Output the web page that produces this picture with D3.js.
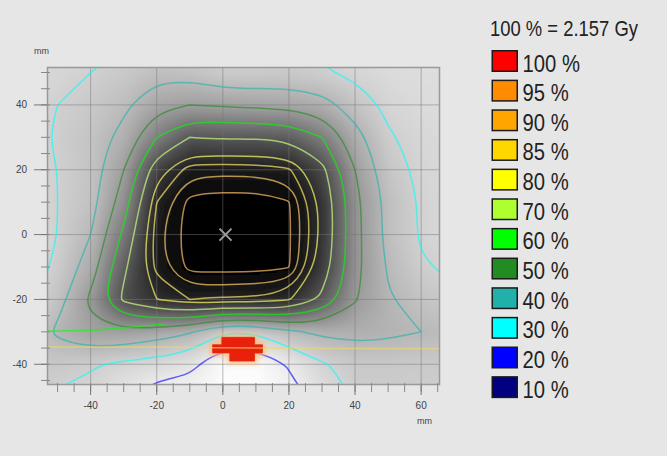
<!DOCTYPE html>
<html>
<head>
<meta charset="utf-8">
<script src="https://cdnjs.cloudflare.com/ajax/libs/d3/7.8.5/d3.min.js"></script>
<style>
html, body {
    margin: 0;
    background: #e6e6e6;
}
svg {
    display: block;
    font-family: "Liberation Sans", Arial, sans-serif;
}
</style>
</head>
<body>
<svg id="chart" width="667" height="456"></svg>
<script>

// dose plane sampled every 10 mm (rows top to bottom), in % of reference dose
var gridX = [-60, -50, -40, -30, -20, -10, 0, 10, 20, 30, 40, 50, 60, 70];
var gridY = [60, 50, 40, 30, 20, 10, 0, -10, -20, -30, -40, -50];
var dose = [
    [24, 26, 27, 29, 31, 31, 30, 29, 29, 28, 26, 24, 24, 24],
    [26, 28, 30, 33, 37, 36, 32, 32, 33, 31, 28, 26, 25, 25],
    [27, 30, 33, 38, 47, 50, 49, 48, 47, 44, 35, 28, 26, 25],
    [27, 31, 35, 43, 60, 70, 69, 69, 68, 60, 44, 31, 27, 26],
    [26, 30, 35, 50, 76, 88, 88, 88, 86, 73, 50, 34, 28, 26],
    [25, 30, 36, 55, 85, 97, 98, 98, 95.5, 78, 53, 37, 29, 26],
    [24, 30, 40, 62, 88, 98, 100, 100, 96, 78, 53, 37, 29, 26],
    [24, 32, 45, 68, 87, 97, 97, 97, 95.5, 76, 53, 39, 31, 28],
    [26, 36, 52, 72, 80, 85, 84, 84, 81, 68, 51, 41, 35, 32],
    [31, 42, 48, 48, 45, 41, 30, 31, 38, 42, 43, 42, 40, 38],
    [34, 33, 31, 28, 26, 23, 12, 12, 21, 29, 33, 33, 32, 32],
    [31, 29, 27, 22, 14, 14, 12, 12, 16, 24, 31, 31, 31, 31]
];

var isoLevels = [95, 90, 85, 80, 70, 60, 50, 40, 30, 20];
var legendLevels = [100, 95, 90, 85, 80, 70, 60, 50, 40, 30, 20, 10];
var legendColors = ['#ff0000', '#ff8c00', '#ffa500', '#ffd700', '#ffff00', '#adff2f',
                    '#00ff00', '#228b22', '#20b2aa', '#00ffff', '#0000ff', '#000080'];
var refText = '100 % = 2.157 Gy';

// 100 % region (mm)
var hotSpot = [[-0.3, -31.7], [9.6, -31.7], [9.6, -34.0], [12, -34.0], [12, -36.5], [9.6, -36.5],
               [9.6, -39.0], [2.1, -39.0], [2.1, -36.5], [-3.1, -36.5], [-3.1, -34.0], [-0.3, -34.0]];
// phantom surface isolines (mm)
var surfaceLines = [
    {level: 85, pts: [[-54, -34.7], [-20, -34.7], [0, -34.9], [30, -35.1], [66, -35.2]]},
    {level: 60, pts: [[-54, -29.8], [-40, -29.5], [-28, -28.6], [-18, -27.6]]}
];
var isocenter = [0.8, 0];

var xTicks = [-40, -20, 0, 20, 40, 60];
var yTicks = [-40, -20, 0, 20, 40];
var xMinor = [-50, -45, -40, -35, -30, -25, -20, -15, -10, -5, 0, 5, 10, 15, 20, 25, 30, 35, 40, 45, 50, 55, 60, 65];
var yMinor = [-45, -40, -35, -30, -25, -20, -15, -10, -5, 0, 5, 10, 15, 20, 25, 30, 35, 40, 45, 50];

var plot = {left: 47, right: 440, top: 67, bottom: 385};

var x = d3.scaleLinear().domain([-53.2, 65.7]).range([plot.left, plot.right]);
var y = d3.scaleLinear().domain([-46.4, 51.7]).range([plot.bottom, plot.top]);

var shade = d3.scaleLinear()
    .domain([12, 20, 25, 30, 40, 50, 60, 70, 80, 90, 97])
    .range([252, 238, 222, 208, 184, 158, 126, 84, 46, 18, 0])
    .clamp(true);

var levelColor = d3.scaleOrdinal().domain(legendLevels).range(legendColors);
// lines over the dark core read pale, lines over the light rim keep their colour
var lineColor = function(level) {
    return level >= 70 ? d3.interpolateRgb(levelColor(level), '#dcdcdc')(0.45) : levelColor(level);
};
var lineOpacity = function(level) { return level >= 70 ? 0.75 : 0.6; };

var svg = d3.select('#chart');
var defs = svg.append('defs');

defs.append('clipPath').attr('id', 'plotClip')
    .append('rect')
    .attr('x', plot.left).attr('y', plot.top)
    .attr('width', plot.right - plot.left).attr('height', plot.bottom - plot.top);

defs.append('filter').attr('id', 'glow')
    .attr('x', '-50%').attr('y', '-50%').attr('width', '200%').attr('height', '200%')
    .append('feGaussianBlur').attr('stdDeviation', 2.5);

defs.append('filter').attr('id', 'soft')
    .attr('x', '0').attr('y', '0').attr('width', '100%').attr('height', '100%')
    .append('feGaussianBlur').attr('stdDeviation', 4).attr('edgeMode', 'duplicate');

var plotG = svg.append('g').attr('clip-path', 'url(#plotClip)');

// grey dose image, one pixel per grid node, smoothed when scaled up
var nx = gridX.length, ny = gridY.length;
var flat = [].concat.apply([], dose);
var canvas = document.createElement('canvas');
canvas.width = nx;
canvas.height = ny;
var ctx = canvas.getContext('2d');
var imgData = ctx.createImageData(nx, ny);
flat.forEach(function(v, i) {
    var g = Math.round(shade(v));
    imgData.data[4 * i] = g;
    imgData.data[4 * i + 1] = g;
    imgData.data[4 * i + 2] = g;
    imgData.data[4 * i + 3] = 255;
});
ctx.putImageData(imgData, 0, 0);

var step = gridX[1] - gridX[0];
var gx = function(c) { return x(gridX[0] - step / 2 + c * step); };
var gy = function(r) { return y(gridY[0] + step / 2 - r * step); };

plotG.append('image')
    .attr('href', canvas.toDataURL())
    .attr('x', gx(0)).attr('y', gy(0))
    .attr('width', gx(nx) - gx(0)).attr('height', gy(ny) - gy(0))
    .attr('preserveAspectRatio', 'none')
    .attr('filter', 'url(#soft)');

// grid lines
plotG.selectAll('.vgrid').data(xTicks).enter().append('line')
    .attr('x1', x).attr('x2', x).attr('y1', plot.top).attr('y2', plot.bottom)
    .attr('stroke', '#777').attr('stroke-opacity', 0.5).attr('stroke-width', 1);
plotG.selectAll('.hgrid').data(yTicks).enter().append('line')
    .attr('y1', y).attr('y2', y).attr('x1', plot.left).attr('x2', plot.right)
    .attr('stroke', '#777').attr('stroke-opacity', 0.5).attr('stroke-width', 1);

// isodose lines
var ring = d3.line().curve(d3.curveBasisClosed);
var contours = d3.contours().size([nx, ny]).thresholds(isoLevels)(flat);
contours.forEach(function(c) {
    c.coordinates.forEach(function(poly) {
        poly.forEach(function(r) {
            var pts = r.slice(0, -1).map(function(p) { return [gx(p[0]), gy(p[1])]; });
            plotG.append('path')
                .attr('d', ring(pts))
                .attr('fill', 'none')
                .attr('stroke', lineColor(c.value))
                .attr('stroke-opacity', lineOpacity(c.value))
                .attr('stroke-width', 1.5);
        });
    });
});

// hot spot
var hotLine = d3.line().x(function(d) { return x(d[0]); }).y(function(d) { return y(d[1]); });
plotG.append('path')
    .attr('d', hotLine(hotSpot) + 'Z')
    .attr('fill', '#ffa060').attr('stroke', '#ffb878').attr('stroke-width', 6)
    .attr('filter', 'url(#glow)').attr('opacity', 0.8);
plotG.append('path')
    .attr('d', hotLine(hotSpot) + 'Z')
    .attr('fill', '#e8200c').attr('stroke', '#d83010').attr('stroke-width', 0.8);

// surface lines
var sLine = d3.line().curve(d3.curveMonotoneX)
    .x(function(d) { return x(d[0]); }).y(function(d) { return y(d[1]); });
surfaceLines.forEach(function(s) {
    plotG.append('path')
        .attr('d', sLine(s.pts))
        .attr('fill', 'none')
        .attr('stroke', lineColor(s.level))
        .attr('stroke-opacity', 0.6)
        .attr('stroke-width', 1.6);
});

// isocenter marker
var cx = x(isocenter[0]), cy = y(isocenter[1]);
plotG.append('path')
    .attr('d', 'M' + (cx - 6) + ',' + (cy - 6) + 'L' + (cx + 6) + ',' + (cy + 6) +
               'M' + (cx + 6) + ',' + (cy - 6) + 'L' + (cx - 6) + ',' + (cy + 6))
    .attr('stroke', '#9a9a9a').attr('stroke-width', 2);

// frame
svg.append('rect')
    .attr('x', plot.left + 0.5).attr('y', plot.top + 0.5)
    .attr('width', plot.right - plot.left - 1).attr('height', plot.bottom - plot.top - 1)
    .attr('fill', 'none').attr('stroke', '#999').attr('stroke-width', 1.5);

// axes
var axisG = svg.append('g').attr('fill', 'none');
axisG.selectAll('.ym').data(yMinor).enter().append('line')
    .attr('x1', plot.left - 6).attr('x2', plot.left + 3)
    .attr('y1', y).attr('y2', y)
    .attr('stroke', '#888');
axisG.selectAll('.yM').data(yTicks).enter().append('line')
    .attr('x1', plot.left - 13).attr('x2', plot.left)
    .attr('y1', y).attr('y2', y)
    .attr('stroke', '#777');
axisG.selectAll('.xm').data(xMinor).enter().append('line')
    .attr('x1', x).attr('x2', x)
    .attr('y1', plot.bottom - 2).attr('y2', plot.bottom + 7)
    .attr('stroke', '#888');
axisG.selectAll('.xM').data(xTicks).enter().append('line')
    .attr('x1', x).attr('x2', x)
    .attr('y1', plot.bottom).attr('y2', plot.bottom + 10)
    .attr('stroke', '#777');

var labelG = svg.append('g').attr('font-size', 10).attr('fill', '#444');
labelG.selectAll('.yl').data(yTicks).enter().append('text')
    .attr('x', 27).attr('y', function(d) { return y(d) + 3.5; })
    .attr('text-anchor', 'end')
    .text(function(d) { return d; });
labelG.selectAll('.xl').data(xTicks).enter().append('text')
    .attr('x', x).attr('y', plot.bottom + 24)
    .attr('text-anchor', 'middle')
    .text(function(d) { return d; });
labelG.append('text').attr('x', 34).attr('y', 54).attr('font-size', 9).text('mm');
labelG.append('text').attr('x', 417).attr('y', 424).attr('font-size', 9).text('mm');

// legend
svg.append('text')
    .attr('transform', 'translate(490,36) scale(0.857,1)')
    .attr('font-size', 21.5).attr('fill', '#222')
    .text(refText);

var legend = svg.append('g').attr('transform', 'translate(491.5,50)');
var rows = legend.selectAll('.row').data(legendLevels).enter().append('g')
    .attr('transform', function(d, i) { return 'translate(0,' + (i * 29.65) + ')'; });
rows.append('rect')
    .attr('x', 0.75).attr('y', 0.75).attr('width', 25).attr('height', 20.5)
    .attr('fill', function(d) { return levelColor(d); })
    .attr('stroke', '#1a1a1a').attr('stroke-width', 1.5);
rows.append('text')
    .attr('transform', 'translate(31,21.5) scale(0.88,1)')
    .attr('font-size', 23).attr('fill', '#222')
    .text(function(d) { return d + ' %'; });

</script>
</body>
</html>
